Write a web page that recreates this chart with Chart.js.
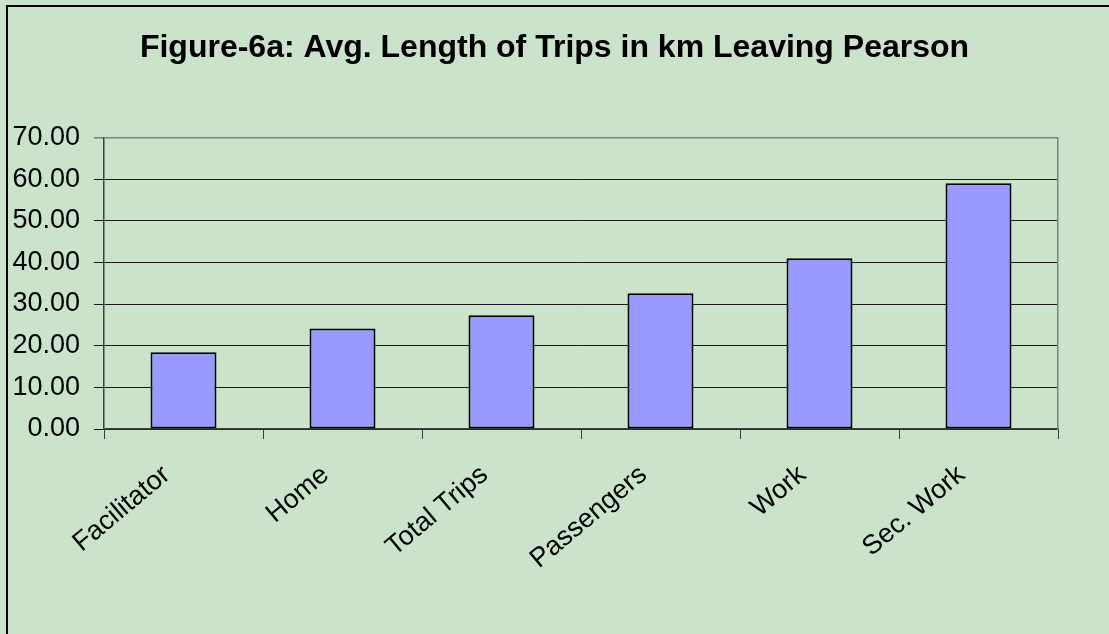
<!DOCTYPE html>
<html>
<head>
<meta charset="utf-8">
<title>Figure-6a</title>
<script src="https://cdn.jsdelivr.net/npm/chart.js@4.4.1/dist/chart.umd.min.js"></script>
<style>
    html, body { margin: 0; padding: 0; background: #cbe2cb; }
    canvas { display: block; }
</style>
</head>
<body>
<canvas id="tripChart" width="1109" height="634"></canvas>
<script>
// Data
const categories = ['Facilitator', 'Home', 'Total Trips', 'Passengers', 'Work', 'Sec. Work'];
const avgLengthKm = [18.4, 24.1, 27.3, 32.6, 41.0, 59.0];
const yTicks = [0, 10, 20, 30, 40, 50, 60, 70];

const colors = {
    background: '#cbe2cb',
    bar: '#9999ff',
    barBorder: '#000000',
    grid: '#1a1a1a',
    frame: '#808080',
    axis: '#404040'
};

const fontFamily = '"Liberation Sans", Arial, sans-serif';

// Page background and outer frame
const framePlugin = {
    id: 'frame',
    beforeDraw(chart) {
        const ctx = chart.ctx;
        ctx.save();
        ctx.fillStyle = colors.background;
        ctx.fillRect(0, 0, chart.width, chart.height);
        ctx.strokeStyle = '#000';
        ctx.lineWidth = 2;
        ctx.beginPath();
        ctx.moveTo(7, chart.height);
        ctx.lineTo(7, 6);
        ctx.lineTo(chart.width, 6);
        ctx.stroke();
        ctx.restore();
    }
};

new Chart(document.getElementById('tripChart'), {
    type: 'bar',
    data: {
        labels: categories,
        datasets: [{
            label: 'Avg. length (km)',
            data: avgLengthKm,
            backgroundColor: colors.bar,
            borderColor: colors.barBorder,
            borderWidth: 2,
            borderSkipped: false,
            categoryPercentage: 1.0,
            barPercentage: 0.415
        }]
    },
    options: {
        responsive: false,
        animation: false,
        layout: {
            padding: 0
        },
        plugins: {
            legend: { display: false },
            tooltip: { enabled: false },
            title: {
                display: true,
                text: 'Figure-6a: Avg. Length of Trips in km Leaving Pearson',
                color: '#000',
                font: { family: fontFamily, size: 32, weight: 'bold' },
                padding: { top: 29, bottom: 70 }
            }
        },
        scales: {
            x: {
                grid: {
                    drawOnChartArea: false,
                    drawTicks: true,
                    tickLength: 10,
                    color: colors.axis,
                    offset: true
                },
                border: { color: colors.axis, width: 1.5 },
                ticks: {
                    color: '#000',
                    font: { family: fontFamily, size: 27 },
                    minRotation: 40,
                    maxRotation: 40,
                    padding: 20,
                    labelOffset: -17,
                    autoSkip: false
                },
                afterFit: function(scale) {
                    scale.height = 205;
                }
            },
            y: {
                min: 0,
                max: 70,
                afterBuildTicks: function(scale) {
                    scale.ticks = yTicks.map(v => ({ value: v }));
                },
                grid: {
                    color: function(ctx) {
                        return ctx.tick && ctx.tick.value === 70 ? colors.frame : colors.grid;
                    },
                    lineWidth: function(ctx) {
                        return ctx.tick && ctx.tick.value === 70 ? 1.5 : 1;
                    },
                    tickLength: 10
                },
                border: { color: colors.axis, width: 1.5 },
                ticks: {
                    color: '#000',
                    font: { family: fontFamily, size: 27 },
                    padding: 14,
                    callback: function(value) {
                        return Number(value).toFixed(2);
                    }
                },
                afterFit: function(scale) {
                    scale.width = 104;
                }
            },
            // right edge of the plot frame
            yRight: {
                position: 'right',
                min: 0,
                max: 70,
                grid: { display: false, drawTicks: false },
                border: { display: true, color: colors.frame, width: 1.5 },
                ticks: { display: false },
                afterFit: function(scale) {
                    scale.width = 51;
                }
            }
        }
    },
    plugins: [framePlugin]
});
</script>
</body>
</html>
